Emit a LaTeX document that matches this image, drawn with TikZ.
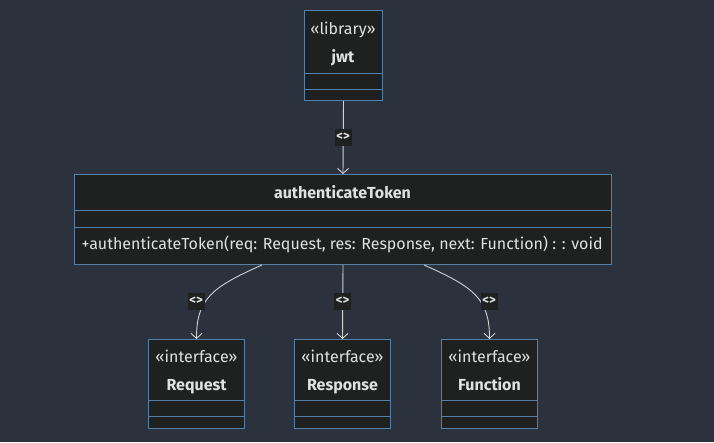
\documentclass[tikz,border=0pt]{standalone}
\usepackage{fontspec}
\setmainfont{Fira Sans}
\usetikzlibrary{arrows.meta, calc}
\definecolor{bgcol}{RGB}{44,49,62}
\definecolor{boxfill}{RGB}{31,32,32}
\definecolor{boxline}{RGB}{88,128,166}
\definecolor{linecol}{RGB}{210,210,210}
\definecolor{txtcol}{RGB}{225,225,225}
\tikzset{
  classbox/.style={draw=boxline, fill=boxfill, line width=1pt, inner sep=0pt, anchor=north west},
  divider/.style={draw=boxline, line width=1pt},
  stereo/.style={text=txtcol, font=\fontsize{16}{18}\selectfont, text height=11pt, text depth=3pt},
  cname/.style={text=txtcol, font=\fontsize{16}{18}\selectfont\bfseries, text height=11pt, text depth=3pt},
  member/.style={text=txtcol, font=\fontsize{16}{18}\selectfont, text height=11pt, text depth=3pt},
  reltag/.style={fill=boxfill, text=txtcol, font=\fontsize{13}{15}\selectfont\bfseries, inner sep=1pt, minimum width=17pt, minimum height=17pt},
  rel/.style={draw=linecol, line width=0.9pt, -{Straight Barb[length=5pt,width=11pt]}}
}
\begin{document}
\begin{tikzpicture}[x=1pt,y=-1pt]
  \fill[bgcol] (0,0) rectangle (714,442);
  \useasboundingbox (0,0) rectangle (714,442);

  % library box:
  \node[classbox, minimum width=78pt, minimum height=90pt] (jwt) at (304,10) {};
  \node[stereo] (jwtst) at (343,30) {«library»};
  \node[cname] (jwtnm) at (343,58) {jwt};
  \draw[divider] (jwt.west |- 0,73) -- (jwt.east |- 0,73);
  \draw[divider] (jwt.west |- 0,89) -- (jwt.east |- 0,89);

  % the middleware class:
  \node[classbox, minimum width=537pt, minimum height=90pt] (auth) at (74,174) {};
  \node[cname] (authnm) at (342.5,194) {authenticateToken};
  \draw[divider] (auth.west |- 0,210) -- (auth.east |- 0,210);
  \draw[divider] (auth.west |- 0,227) -- (auth.east |- 0,227);
  \node[member, anchor=west] (authfn) at (78,245) {+authenticateToken(req: Request, res: Response, next: Function) : : void};

  % interfaces:
  \foreach \nm/\x in {Request/148, Response/294, Function/441}{%
    \node[classbox, minimum width=96pt, minimum height=89pt] (\nm) at (\x,339) {};
    \node[stereo] at ($(\nm.north)+(0,19)$) {«interface»};
    \node[cname] at ($(\nm.north)+(0,47)$) {\nm};
    \draw[divider] (\nm.west |- 0,400) -- (\nm.east |- 0,400);
    \draw[divider] (\nm.west |- 0,416) -- (\nm.east |- 0,416);
  }

  % relations:
  \draw[rel] (jwt.south) -- (auth.north);
  \node[reltag] (tagjwt) at (343,137) {<>};
  \draw[rel] ([xshift=-81pt]auth.south) .. controls +(-50,22) and +(0,-40) .. (Request.north);
  \node[reltag] (tagreq) at (196,301) {<>};
  \draw[rel] (auth.south) -- (Response.north);
  \node[reltag] (tagres) at (342.5,301) {<>};
  \draw[rel] ([xshift=81pt]auth.south) .. controls +(50,22) and +(0,-40) .. (Function.north);
  \node[reltag] (tagfun) at (489,301) {<>};
\end{tikzpicture}
\end{document}
